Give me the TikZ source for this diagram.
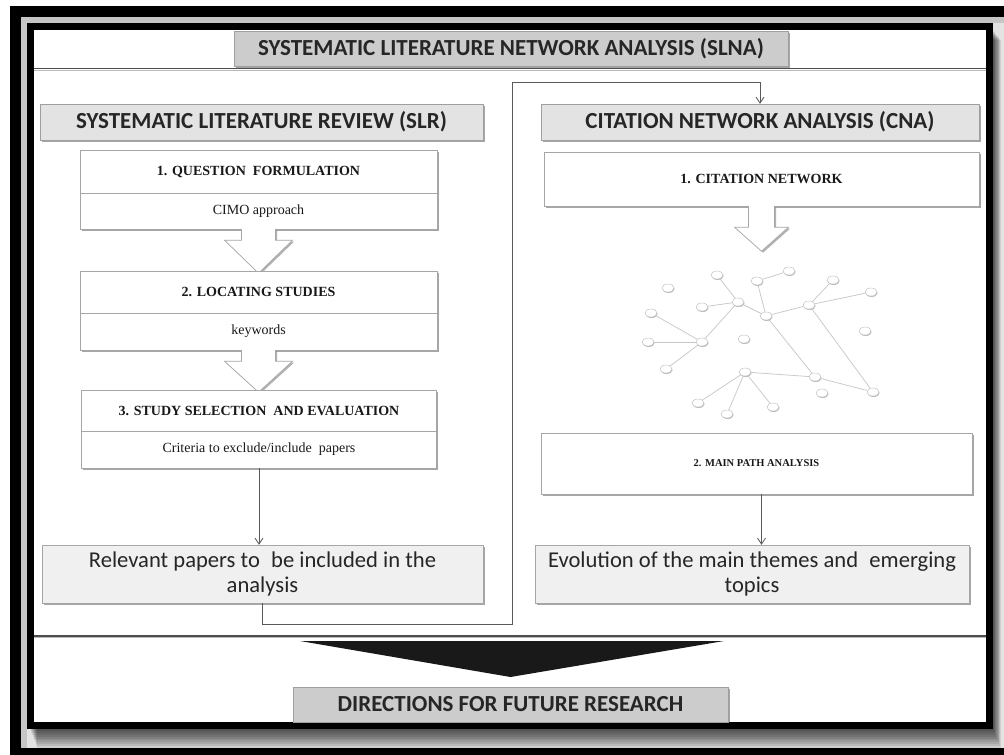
\documentclass[tikz,border=0pt]{standalone}
\usepackage{fontspec}
\setmainfont{Liberation Serif}
\newfontfamily\carl{Carlito}
\usetikzlibrary{arrows.meta,shadows,calc,shapes.geometric}
\begin{document}
\begin{tikzpicture}[x=1pt,y=-1pt,
  shd/.style={drop shadow={shadow xshift=1.8pt,shadow yshift=-1.8pt,opacity=0.35,fill=black}},
  hdr/.style={draw=gray!75, text=black!85, inner sep=0pt, shd,
    font=\carl\bfseries\fontsize{23}{26}\selectfont},
  hdrdark/.style={hdr, fill=gray!40},
  hdrlight/.style={hdr, fill=gray!22},
  ttl/.style={draw=gray!70, fill=white, inner sep=0pt, shd, text=black!90,
    font=\bfseries\fontsize{14}{16}\selectfont},
  sub/.style={draw=gray!70, fill=white, inner sep=0pt, shd, text=black!90,
    font=\fontsize{14}{16}\selectfont},
  res/.style={draw=gray!70, fill=gray!12, inner sep=0pt, shd, text=black!85, align=center,
    font=\carl\fontsize{22.6}{25}\selectfont},
  harrow/.style={draw=gray!70, fill=white, line width=0.7pt, line join=miter,
    drop shadow={shadow xshift=1.5pt,shadow yshift=-1.5pt,opacity=0.3,fill=black}},
  conn/.style={draw=black!65, line width=0.8pt, -{Straight Barb[length=6pt,width=8pt]}},
  nnode/.style={ellipse, draw=gray!55, fill=white, minimum width=12pt, minimum height=8pt,
    inner sep=0pt, drop shadow={shadow xshift=0.6pt,shadow yshift=-1pt,opacity=0.25,fill=black}},
  nedge/.style={draw=gray!45, line width=0.7pt}
]
\useasboundingbox (0,0) rectangle (1004,755);
% ---------- background and frames ----------
\fill[white] (0,0) rectangle (1004,755);
\fill[gray!22] (10,6) rectangle (1004,755);
\fill[black] (10,6) rectangle (1004,17);
\fill[black] (10,6) rectangle (21,755);
\fill[black] (10,748) rectangle (1004,755);
\fill[gray!45] (21,17) rectangle (1004,23);
\fill[gray!45] (21,17) rectangle (27,748);
\foreach \k in {1,...,10}
  \fill[black,opacity=0.09] (30+0.7*\k,30+\k) rectangle (993+0.8*\k,729+1.9*\k);
\fill[white] (30.5,26.5) rectangle (989.5,725.5);
\draw[line width=7pt] (30.5,26.5) rectangle (989.5,725.5);
% separators
\draw[line width=1.6pt, black!70] (34,68.5) -- (986,68.5);
\draw[line width=1pt, gray!55] (34,70.3) -- (986,70.3);
\draw[line width=1.6pt, black!70] (34,635.8) -- (986,635.8);
\draw[line width=1pt, gray!55] (34,637.6) -- (986,637.6);
% ---------- headers ----------
\node[hdrdark, minimum width=554pt, minimum height=35pt] (slna) at (511,48.5)
  {SYSTEMATIC LITERATURE NETWORK ANALYSIS (SLNA)};
\node[hdrlight, minimum width=443pt, minimum height=36pt] (slr) at (261.5,122)
  {SYSTEMATIC LITERATURE REVIEW (SLR)};
\node[hdrlight, minimum width=438pt, minimum height=36pt] (cna) at (760,122)
  {CITATION NETWORK ANALYSIS (CNA)};
% ---------- left column ----------
\node[ttl, minimum width=357pt, minimum height=43pt] (b1t) at (258.5,171.5) {1. QUESTION\enspace FORMULATION};
\node[sub, minimum width=357pt, minimum height=36pt] (b1s) at (258.5,211) {CIMO approach};
% arrow 1
\filldraw[harrow] ($(b1s.south)+(-17,0)$) -- ++(0,11) -- ++(-17,0) -- ($(b1s.south)+(0,44)$)
  -- ($(b1s.south)+(34,11)$) -- ++(-17,0) -- ++(0,-11);
\node[ttl, minimum width=357pt, minimum height=42pt] (b2t) at (258.5,292) {2. LOCATING STUDIES};
\node[sub, minimum width=357pt, minimum height=37pt] (b2s) at (258.5,331.5) {keywords};
% arrow 2
\filldraw[harrow] ($(b2s.south)+(-17,0)$) -- ++(0,11) -- ++(-17,0) -- ($(b2s.south)+(0,42)$)
  -- ($(b2s.south)+(34,11)$) -- ++(-17,0) -- ++(0,-11);
\node[ttl, minimum width=355pt, minimum height=41pt] (b3t) at (259,410.5) {3. STUDY SELECTION\enspace AND EVALUATION};
\node[sub, minimum width=355pt, minimum height=37pt] (b3s) at (259,449.5) {Criteria to exclude/include\enspace papers};
\node[res, minimum width=441pt, minimum height=58pt] (rel) at (262.5,574)
  {Relevant papers to\enspace be included in the\\analysis};
\draw[conn] (b3s.south) -- (b3s.south |- rel.north);
% ---------- right column ----------
\node[ttl, minimum width=435pt, minimum height=54pt] (cn) at (761.5,179) {1. CITATION NETWORK};
\filldraw[harrow] ($(cn.south)+(-13,0)$) -- ++(0,21) -- ++(-14,0) -- ($(cn.south)+(0,45)$)
  -- ($(cn.south)+(27,21)$) -- ++(-14,0) -- ++(0,-21);
% network
\foreach \n/\x/\y in {1/668/288, 2/717/275, 3/757/281, 4/789/271, 5/833/280, 6/871/292,
  7/702/307, 8/738/302, 9/766/316, 10/809/305, 11/651/313, 12/648/342, 13/702/342,
  14/744/339, 15/865/331, 16/666/369, 17/745/372, 18/815/377, 19/822/393, 20/873/392,
  21/698/403, 22/727/414, 23/773/407}
  \node[nnode] (n\n) at (\x,\y) {};
\foreach \a/\b in {2/8, 3/4, 3/9, 7/8, 8/9, 8/13, 9/10, 10/5, 10/6, 10/20, 9/18,
  11/13, 12/13, 16/13, 17/18, 18/20, 17/21, 17/22, 17/23}
  \draw[nedge] (n\a) -- (n\b);
\node[ttl, minimum width=431pt, minimum height=61pt, font=\bfseries\fontsize{10.5}{12}\selectfont]
  (mp) at (756.5,463.5) {2. MAIN PATH ANALYSIS};
\node[res, minimum width=434pt, minimum height=58pt] (ev) at (752,574)
  {Evolution of the main themes and\enspace emerging\\topics};
\draw[conn] (mp.south -| cn.south) -- (ev.north -| cn.south);
% ---------- long connector ----------
\coordinate (cb) at (512.5,624);
\coordinate (ct) at (512.5,82);
\draw[conn] (rel.south) |- (cb) -- (ct) -| (cna.north);
% ---------- bottom ----------
\node[hdrdark, minimum width=435pt, minimum height=35pt] (dir) at (510.5,704.5)
  {DIRECTIONS FOR FUTURE RESEARCH};
\fill[black!90] (300,641) -- (724,641) -- (dir.north |- 0,677) -- cycle;
\end{tikzpicture}
\end{document}
